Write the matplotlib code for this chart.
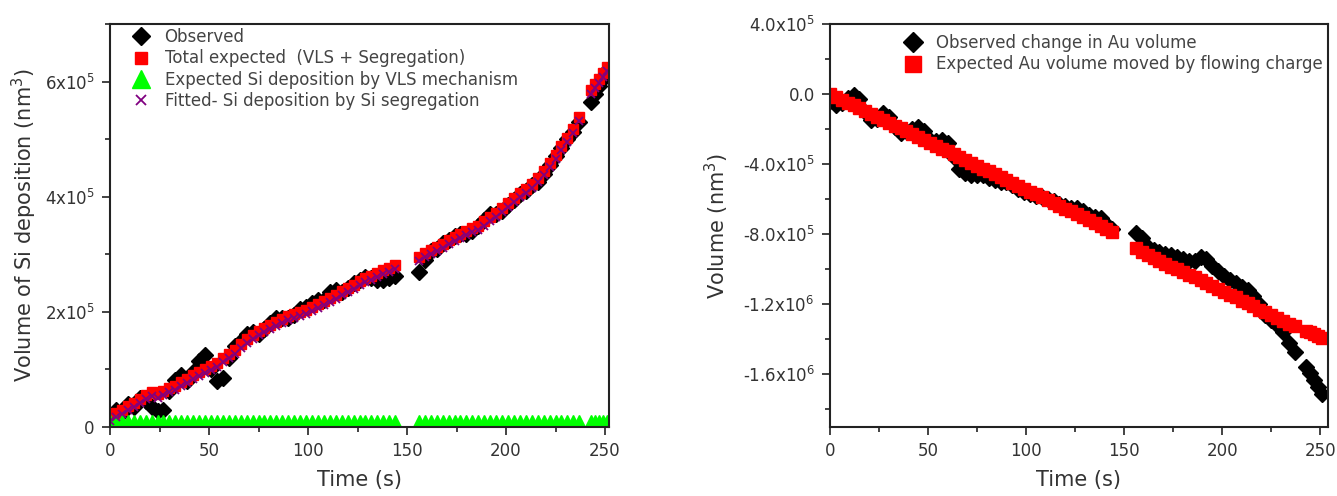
import numpy as np
import matplotlib
matplotlib.use('Agg')
import matplotlib.pyplot as plt
from matplotlib import ticker

# время, с (три участка записи с разрывами)
time_s = [0, 3, 6, 9, 12, 15, 18, 21, 24, 27, 30, 33, 36, 39, 42, 45, 48, 51, 54, 57,
          60, 63, 66, 69, 72, 75, 78, 81, 84, 87, 90, 93, 96, 99, 102, 105, 108, 111, 114, 117,
          120, 123, 126, 129, 132, 135, 138, 141, 144,
          156, 159, 162, 165, 168, 171, 174, 177, 180, 183, 186, 189, 192, 195, 198, 201, 204, 207, 210,
          213, 216, 219, 222, 225, 228, 231, 234, 237,
          243, 245, 247, 249, 251]

# левый график, объём Si (x1e5 nm^3)
si_observed = [0.2, 0.3, 0.25, 0.4, 0.35, 0.5, 0.45, 0.35, 0.28, 0.3, 0.62, 0.82, 0.9, 0.8, 0.95, 1.15, 1.25, 1.0, 0.8, 0.85,
               1.2, 1.4, 1.5, 1.62, 1.65, 1.62, 1.7, 1.8, 1.9, 1.9, 1.9, 1.95, 2.05, 2.08, 2.15, 2.2, 2.2, 2.35, 2.38, 2.35,
               2.42, 2.5, 2.55, 2.6, 2.58, 2.55, 2.55, 2.58, 2.62,
               2.7, 2.9, 3.05, 3.1, 3.2, 3.25, 3.32, 3.35, 3.35, 3.4, 3.5, 3.6, 3.7, 3.7, 3.75, 3.85, 3.95, 4.05, 4.1,
               4.2, 4.25, 4.4, 4.55, 4.7, 4.85, 5.0, 5.12, 5.3,
               5.65, 5.78, 5.92, 6.05, 6.2]
si_total = [0.18, 0.24, 0.3, 0.36, 0.42, 0.48, 0.55, 0.6, 0.58, 0.62, 0.68, 0.72, 0.78, 0.84, 0.9, 0.95, 1.0, 1.06, 1.12, 1.2,
            1.26, 1.34, 1.44, 1.53, 1.6, 1.66, 1.72, 1.77, 1.83, 1.88, 1.92, 1.96, 2.0, 2.04, 2.08, 2.13, 2.19, 2.24, 2.3, 2.36,
            2.41, 2.47, 2.53, 2.58, 2.63, 2.68, 2.72, 2.77, 2.82,
            2.95, 3.02, 3.07, 3.12, 3.18, 3.24, 3.3, 3.35, 3.4, 3.45, 3.5, 3.57, 3.64, 3.72, 3.8, 3.89, 3.98, 4.06, 4.14,
            4.22, 4.32, 4.45, 4.58, 4.72, 4.88, 5.02, 5.18, 5.38,
            5.85, 5.95, 6.05, 6.15, 6.25]
si_vls = [0.07, 0.07, 0.07, 0.07, 0.07, 0.07, 0.07, 0.07, 0.07, 0.07, 0.07, 0.07, 0.07, 0.07, 0.07, 0.07, 0.07, 0.07, 0.07, 0.07,
          0.07, 0.07, 0.07, 0.07, 0.07, 0.07, 0.07, 0.07, 0.07, 0.07, 0.07, 0.07, 0.07, 0.07, 0.07, 0.07, 0.07, 0.07, 0.07, 0.07,
          0.07, 0.07, 0.07, 0.07, 0.07, 0.07, 0.07, 0.07, 0.07,
          0.07, 0.07, 0.07, 0.07, 0.07, 0.07, 0.07, 0.07, 0.07, 0.07, 0.07, 0.07, 0.07, 0.07, 0.07, 0.07, 0.07, 0.07, 0.07,
          0.07, 0.07, 0.07, 0.07, 0.07, 0.07, 0.07, 0.07, 0.07,
          0.07, 0.07, 0.07, 0.07, 0.07]

# правый график, изменение объёма Au (x1e5 nm^3)
au_observed = [-0.4, -0.6, -0.5, -0.2, -0.05, -0.3, -1.0, -1.5, -1.4, -1.1, -1.3, -1.9, -2.2, -2.1, -2.0, -1.9, -2.1, -2.6, -2.7, -2.6,
               -2.8, -3.6, -4.3, -4.5, -4.6, -4.6, -4.6, -4.8, -4.9, -5.0, -5.0, -5.2, -5.4, -5.6, -5.7, -5.8, -5.9, -6.0, -6.1, -6.3,
               -6.4, -6.5, -6.5, -6.7, -6.9, -7.0, -7.1, -7.4, -7.7,
               -7.9, -8.2, -8.7, -8.9, -9.0, -9.1, -9.2, -9.3, -9.4, -9.5, -9.5, -9.3, -9.4, -9.8, -10.1, -10.4, -10.6, -10.8, -11.0,
               -11.2, -11.5, -12.0, -12.6, -12.9, -13.2, -13.6, -14.2, -14.7,
               -15.6, -15.9, -16.3, -16.7, -17.1]
au_expected = [0.0, -0.16, -0.33, -0.49, -0.65, -0.82, -0.98, -1.14, -1.31, -1.47, -1.64, -1.8, -1.96, -2.13, -2.29, -2.45, -2.62, -2.78, -2.94, -3.11,
               -3.27, -3.43, -3.6, -3.76, -3.92, -4.09, -4.25, -4.41, -4.58, -4.74, -4.9, -5.07, -5.23, -5.4, -5.56, -5.72, -5.89, -6.05, -6.21, -6.38,
               -6.54, -6.7, -6.87, -7.03, -7.19, -7.36, -7.52, -7.68, -7.85,
               -8.8, -9.0, -9.2, -9.35, -9.5, -9.7, -9.85, -10.0, -10.15, -10.3, -10.45, -10.6, -10.8, -10.95, -11.1, -11.3, -11.45, -11.6, -11.8,
               -11.95, -12.1, -12.3, -12.45, -12.6, -12.8, -12.95, -13.1, -13.25,
               -13.5, -13.6, -13.7, -13.8, -13.9]

scale = 1e5
t = np.array(time_s)
obs_si = np.array(si_observed) * scale
tot_si = np.array(si_total) * scale
vls = np.array(si_vls) * scale
seg_si = tot_si - vls  # Total = VLS + Segregation
obs_au = np.array(au_observed) * scale
exp_au = np.array(au_expected) * scale

plt.rcParams['font.family'] = ['DejaVu Sans']
plt.rcParams['mathtext.fontset'] = 'dejavusans'
text_col = '#333333'


def fmt_si(v, pos):
    if abs(v) < 1:
        return '0'
    e = int(np.floor(np.log10(abs(v))))
    return f'{v / 10**e:.0f}x10$^{{{e}}}$'


def fmt_au(v, pos):
    if abs(v) < 1:
        return '0.0'
    e = int(np.floor(np.log10(abs(v)) + 1e-9))
    return f'{v / 10**e:.1f}x10$^{{{e}}}$'


def style_axes(ax):
    for s in ax.spines.values():
        s.set_linewidth(1.5)
        s.set_color('#222222')
    ax.tick_params(which='both', direction='out', top=False, right=False,
                   colors='#222222', labelcolor=text_col, width=1.2)
    ax.tick_params(which='major', length=6, pad=5, labelsize=12)
    ax.tick_params(which='minor', length=3.5)
    ax.xaxis.set_major_locator(ticker.MultipleLocator(50))
    ax.xaxis.set_minor_locator(ticker.MultipleLocator(25))
    ax.set_xlabel('Time (s)', fontsize=15, color=text_col, labelpad=7)


fig = plt.figure(figsize=(13.37, 4.96), dpi=100)
ax1 = fig.add_axes([110 / 1337, 69 / 496, 499 / 1337, 403 / 496])
ax2 = fig.add_axes([830 / 1337, 69 / 496, 498 / 1337, 403 / 496])

# Левый график: осаждение Si
ax1.plot(t, obs_si, ls='none', marker='D', ms=8, color='black', label='Observed')
ax1.plot(t, tot_si, ls='none', marker='s', ms=7, color='#ff0000',
         label='Total expected  (VLS + Segregation)')
ax1.plot(t, vls, ls='none', marker='^', ms=11, color='#00ff00',
         label='Expected Si deposition by VLS mechanism')
ax1.plot(t, seg_si, ls='none', marker='x', ms=6, mew=1.3, color='#800080',
         label='Fitted- Si deposition by Si segregation')
ax1.set_xlim(0, 252)
ax1.set_ylim(0, 7e5)
ax1.yaxis.set_major_locator(ticker.MultipleLocator(2e5))
ax1.yaxis.set_minor_locator(ticker.MultipleLocator(1e5))
ax1.yaxis.set_major_formatter(ticker.FuncFormatter(fmt_si))
style_axes(ax1)
ax1.set_ylabel('Volume of Si deposition (nm$^3$)', fontsize=15, color=text_col, labelpad=4)
leg1 = ax1.legend(loc='upper left', bbox_to_anchor=(0.046, 0.99), frameon=False,
                  fontsize=12, markerscale=1.2, handlelength=1.0, handletextpad=0.9,
                  labelspacing=0.2, borderpad=0, borderaxespad=0)
for txt in leg1.get_texts():
    txt.set_color('#444444')

# Правый график: объём Au
ax2.plot(t, obs_au, ls='none', marker='D', ms=8, color='black',
         label='Observed change in Au volume')
ax2.plot(t, exp_au, ls='none', marker='s', ms=9, color='#ff0000',
         label='Expected Au volume moved by flowing charge')
ax2.set_xlim(0, 254)
ax2.set_ylim(-1.9e6, 4e5)
ax2.yaxis.set_major_locator(ticker.MultipleLocator(4e5))
ax2.yaxis.set_minor_locator(ticker.MultipleLocator(2e5))
ax2.yaxis.set_major_formatter(ticker.FuncFormatter(fmt_au))
style_axes(ax2)
ax2.set_ylabel('Volume (nm$^3$)', fontsize=15, color=text_col, labelpad=8)
leg2 = ax2.legend(loc='upper left', bbox_to_anchor=(0.15, 0.975), frameon=False,
                  fontsize=12, markerscale=1.3, handlelength=1.0, handletextpad=0.9,
                  labelspacing=0.2, borderpad=0, borderaxespad=0)
for txt in leg2.get_texts():
    txt.set_color('#444444')

fig.savefig('out.png', dpi=100)
